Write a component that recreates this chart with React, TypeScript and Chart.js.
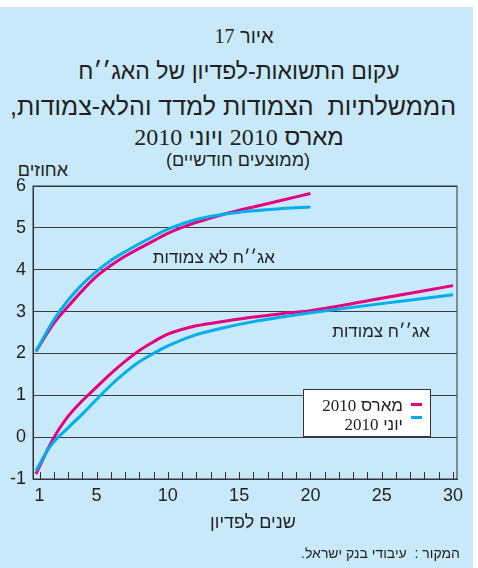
import React, { useEffect, useRef } from "react";
import { Chart, registerables } from "chart.js";
Chart.register(...registerables);

// Years to maturity and yields (%)
const nominalYears = [0.75, 2, 3, 4, 5, 6, 7, 8, 9, 10, 12, 14, 16, 18, 20];
const nominalMarch = [2.05, 2.72, 3.12, 3.5, 3.84, 4.1, 4.32, 4.51, 4.69, 4.87, 5.13, 5.33, 5.5, 5.66, 5.82];
const nominalJune = [2.05, 2.8, 3.27, 3.65, 3.96, 4.22, 4.43, 4.62, 4.8, 4.97, 5.2, 5.33, 5.41, 5.46, 5.5];

const indexedMarchYears = [0.75, 1.94, 2.88, 3.8, 4.65, 6, 7, 8, 9, 10, 12, 14, 16, 18, 20, 25, 30];
const indexedMarch = [-0.88, -0.05, 0.44, 0.8, 1.08, 1.52, 1.81, 2.07, 2.28, 2.46, 2.66, 2.77, 2.87, 2.95, 3.02, 3.32, 3.62];
const indexedJuneYears = [0.75, 1.75, 3, 4, 5, 6, 7, 8, 9, 10, 12, 14, 16, 18, 20, 25, 30];
const indexedJune = [-0.8, -0.22, 0.22, 0.55, 0.9, 1.24, 1.54, 1.8, 2.0, 2.18, 2.45, 2.62, 2.76, 2.87, 2.97, 3.19, 3.4];

const xTickLabels = [1, 5, 10, 15, 20, 25, 30];
const yTickLabels = [-1, 0, 1, 2, 3, 4, 5, 6];

const MAGENTA = "#e5007d";
const CYAN = "#00aeef";
const INK = "#231f20";
const HEB = "'Liberation Sans', Arial, sans-serif";
const SERIF = "'Liberation Serif', 'Times New Roman', serif";

const toPoints = (xs: number[], ys: number[]) => xs.map((x, i) => ({ x, y: ys[i] }));

const framePlugin = {
  id: "frame",
  beforeDatasetsDraw(chart: any) {
    const { ctx, chartArea, scales } = chart;
    ctx.save();
    ctx.strokeStyle = "#333";
    ctx.lineWidth = 1;
    ctx.strokeRect(chartArea.left, chartArea.top, chartArea.right - chartArea.left, chartArea.bottom - chartArea.top);
    const xs = scales.x;
    ctx.beginPath();
    for (let i = 1; i <= 30; i++) {
      const px = Math.round(xs.getPixelForValue(i)) + 0.5;
      ctx.moveTo(px, chartArea.bottom);
      ctx.lineTo(px, chartArea.bottom - 7);
    }
    ctx.stroke();
    ctx.restore();
  },
};

function Txt(props: { x: number; y: number; size: number; align?: "center" | "right" | "left"; children: any; color?: string }) {
  const { x, y, size, align = "center", children, color = INK } = props;
  const tx = align === "center" ? "-50%" : align === "right" ? "-100%" : "0";
  return (
    <div
      style={{
        position: "absolute",
        left: x,
        top: y,
        transform: `translate(${tx}, -50%)`,
        fontSize: size,
        lineHeight: 1,
        whiteSpace: "nowrap",
        direction: "rtl",
        fontFamily: HEB,
        color,
      }}
    >
      {children}
    </div>
  );
}

const Num = ({ children }: { children: any }) => <span style={{ fontFamily: SERIF }}>{children}</span>;

export default function App() {
  const ref = useRef<HTMLCanvasElement | null>(null);

  useEffect(() => {
    if (!ref.current) return;
    const line = (data: any, color: string) => ({
      data,
      borderColor: color,
      backgroundColor: color,
      borderWidth: 3,
      pointRadius: 0,
      fill: false,
      cubicInterpolationMode: "monotone" as const,
      tension: 0.4,
    });
    const chart = new Chart(ref.current, {
      type: "line",
      data: {
        datasets: [
          line(toPoints(nominalYears, nominalJune), CYAN),
          line(toPoints(nominalYears, nominalMarch), MAGENTA),
          line(toPoints(indexedJuneYears, indexedJune), CYAN),
          line(toPoints(indexedMarchYears, indexedMarch), MAGENTA),
        ],
      },
      options: {
        animation: false,
        responsive: false,
        layout: { padding: { left: 0, top: 186, right: 21, bottom: 59 } },
        plugins: { legend: { display: false }, tooltip: { enabled: false } },
        scales: {
          x: {
            type: "linear",
            min: 0.544,
            max: 30.28,
            grid: { display: false, drawTicks: false },
            border: { display: true, color: "#333", width: 1 },
            afterBuildTicks: (scale: any) => {
              scale.ticks = xTickLabels.map((v) => ({ value: v }));
            },
            afterFit: (scale: any) => {
              scale.height = 30;
            },
            ticks: {
              autoSkip: false,
              maxRotation: 0,
              padding: 6,
              color: INK,
              font: { family: HEB, size: 18 },
            },
          },
          y: {
            type: "linear",
            min: -1,
            max: 6,
            afterBuildTicks: (scale: any) => {
              scale.ticks = yTickLabels.map((v) => ({ value: v }));
            },
            afterFit: (scale: any) => {
              scale.width = 33;
            },
            grid: { color: "#3c3c3c", lineWidth: 1, drawTicks: false },
            border: { display: true, color: "#333", width: 1 },
            ticks: {
              padding: 7,
              color: INK,
              font: { family: HEB, size: 18 },
            },
          },
        },
      },
      plugins: [framePlugin],
    });
    return () => chart.destroy();
  }, []);

  return (
    <div style={{ position: "absolute", left: 0, top: 0, width: 478, height: 568, overflow: "hidden", background: "#fff" }}>
      <div style={{ position: "absolute", left: 0, top: 7, width: 473, height: 561, background: "#c7e9f9" }} />
      <Txt x={244} y={36} size={20}>איור <Num>17</Num></Txt>
      <Txt x={239} y={71} size={23}>עקום התשואות-לפדיון של האג׳׳ח</Txt>
      <Txt x={233} y={106} size={25}>הממשלתיות&nbsp; הצמודות למדד והלא-צמודות,</Txt>
      <Txt x={239} y={137} size={24}>מארס <Num>2010</Num> ויוני <Num>2010</Num></Txt>
      <Txt x={238} y={160} size={18}>(ממוצעים חודשיים)</Txt>
      <Txt x={68} y={170} size={18} align="right">אחוזים</Txt>
      <canvas ref={ref} width={478} height={568} style={{ position: "absolute", left: 0, top: 0, width: 478, height: 568 }} />
      <Txt x={275} y={257} size={17} align="right">אג׳׳ח לא צמודות</Txt>
      <Txt x={430} y={331} size={17} align="right">אג׳׳ח צמודות</Txt>
      <div
        style={{
          position: "absolute",
          left: 303,
          top: 389,
          width: 128,
          height: 48,
          boxSizing: "border-box",
          background: "#fff",
          border: "1px solid #333",
        }}
      >
        <Txt x={99} y={15} size={17} align="right">מארס <Num>2010</Num></Txt>
        <Txt x={99} y={34} size={17} align="right">יוני <Num>2010</Num></Txt>
        <div style={{ position: "absolute", left: 107, top: 13, width: 11, height: 3, background: MAGENTA }} />
        <div style={{ position: "absolute", left: 107, top: 26, width: 11, height: 3, background: CYAN }} />
      </div>
      <Txt x={253} y={522} size={18}>שנים לפדיון</Txt>
      <Txt x={460} y={553} size={14} align="right">המקור :&nbsp; עיבודי בנק ישראל.</Txt>
    </div>
  );
}
